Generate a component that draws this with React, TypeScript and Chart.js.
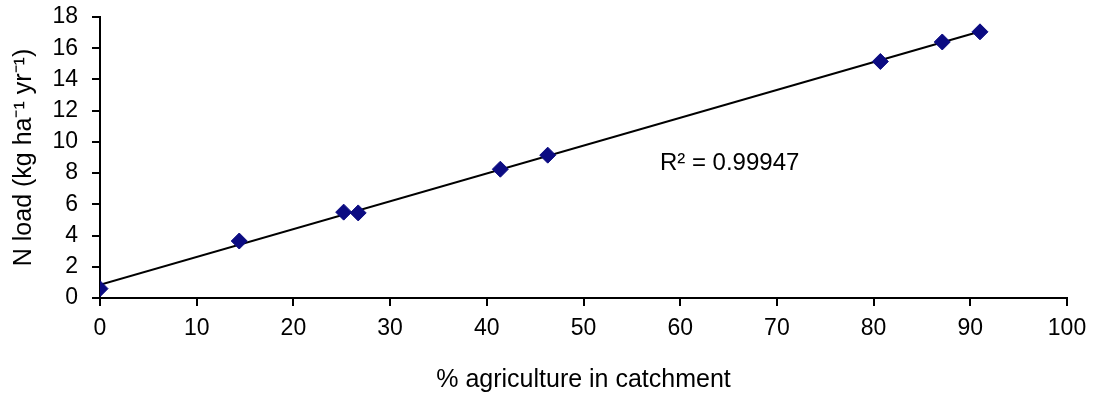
import React, { useEffect, useRef } from "react";
import { Chart, registerables } from "chart.js";

Chart.register(...registerables);

const agriculturePct = [0, 14.4, 25.2, 26.7, 41.4, 46.3, 80.7, 87.1, 91.0];
const nLoad = [0.6, 3.65, 5.5, 5.45, 8.25, 9.15, 15.15, 16.4, 17.05];
const xTicks = [0, 10, 20, 30, 40, 50, 60, 70, 80, 90, 100];
const yTicks = [0, 2, 4, 6, 8, 10, 12, 14, 16, 18];
const r2Label = "R² = 0.99947";
const r2Anchor = { x: 57.9, y: 8.65 };
const xTitle = "% agriculture in catchment";
const yTitle = "N load (kg ha⁻¹ yr⁻¹)";

function fitLine(xs: number[], ys: number[]) {
  const n = xs.length;
  const mx = xs.reduce((a, b) => a + b, 0) / n;
  const my = ys.reduce((a, b) => a + b, 0) / n;
  let sxy = 0, sxx = 0;
  for (let i = 0; i < n; i++) {
    sxy += (xs[i] - mx) * (ys[i] - my);
    sxx += (xs[i] - mx) ** 2;
  }
  const slope = sxy / sxx;
  return { slope, intercept: my - slope * mx };
}

export default function App() {
  const ref = useRef<HTMLCanvasElement>(null);
  useEffect(() => {
    document.body.style.margin = "0";
    const { slope, intercept } = fitLine(agriculturePct, nLoad);
    const x0 = Math.min(...agriculturePct);
    const x1 = Math.max(...agriculturePct);
    const font = "Arial, 'Liberation Sans', sans-serif";
    const textPlugin = {
      id: "r2text",
      afterDatasetsDraw(chart: any) {
        const ctx = chart.ctx;
        const px = chart.scales.x.getPixelForValue(r2Anchor.x);
        const py = chart.scales.y.getPixelForValue(r2Anchor.y);
        ctx.save();
        ctx.font = `24px ${font}`;
        ctx.fillStyle = "#000";
        ctx.textAlign = "left";
        ctx.textBaseline = "middle";
        ctx.fillText(r2Label, px, py);
        ctx.restore();
      },
    };
    const chart = new Chart(ref.current!, {
      type: "scatter",
      data: {
        datasets: [
          {
            type: "line",
            data: [
              { x: x0, y: intercept + slope * x0 },
              { x: x1, y: intercept + slope * x1 },
            ],
            borderColor: "#000",
            borderWidth: 2,
            pointRadius: 0,
            fill: false,
            order: 2,
          } as any,
          {
            data: agriculturePct.map((x, i) => ({ x, y: nLoad[i] })),
            pointStyle: "rectRot",
            pointRadius: 8,
            backgroundColor: "#0b0b82",
            borderColor: "#0b0b82",
            borderWidth: 1,
            order: 1,
          },
        ],
      },
      options: {
        animation: false,
        responsive: false,
        maintainAspectRatio: false,
        layout: { padding: { top: 17, right: 26, left: 0, bottom: 0 } },
        plugins: { legend: { display: false }, tooltip: { enabled: false } },
        scales: {
          x: {
            type: "linear",
            min: 0,
            max: 100,
            afterBuildTicks: (s: any) => {
              s.ticks = xTicks.map((v) => ({ value: v }));
            },
            afterFit: (s: any) => {
              s.height = 98;
              s.paddingLeft = 0;
              s.paddingRight = 0;
            },
            grid: { drawOnChartArea: false, drawTicks: true, tickLength: 8, color: "#000", lineWidth: 2 },
            border: { color: "#000", width: 2 },
            ticks: { color: "#000", font: { size: 23, family: font }, padding: 9, maxRotation: 0, autoSkip: false },
            title: { display: true, text: xTitle, color: "#000", font: { size: 25, family: font }, padding: { top: 10, bottom: 1 } },
          },
          y: {
            type: "linear",
            min: 0,
            max: 18,
            afterBuildTicks: (s: any) => {
              s.ticks = yTicks.map((v) => ({ value: v }));
            },
            afterFit: (s: any) => {
              s.width = 100;
              s.paddingTop = 0;
              s.paddingBottom = 0;
            },
            grid: { drawOnChartArea: false, drawTicks: true, tickLength: 8, color: "#000", lineWidth: 2 },
            border: { color: "#000", width: 2 },
            ticks: { color: "#000", font: { size: 23, family: font }, padding: 14, autoSkip: false },
            title: { display: true, text: yTitle, color: "#000", font: { size: 25, family: font }, padding: { top: 9, bottom: 8 } },
          },
        },
      },
      plugins: [textPlugin],
    });
    return () => chart.destroy();
  }, []);
  return (
    <div style={{ width: 1093, height: 396 }}>
      <canvas ref={ref} width={1093} height={396} style={{ width: 1093, height: 396 }} />
    </div>
  );
}
